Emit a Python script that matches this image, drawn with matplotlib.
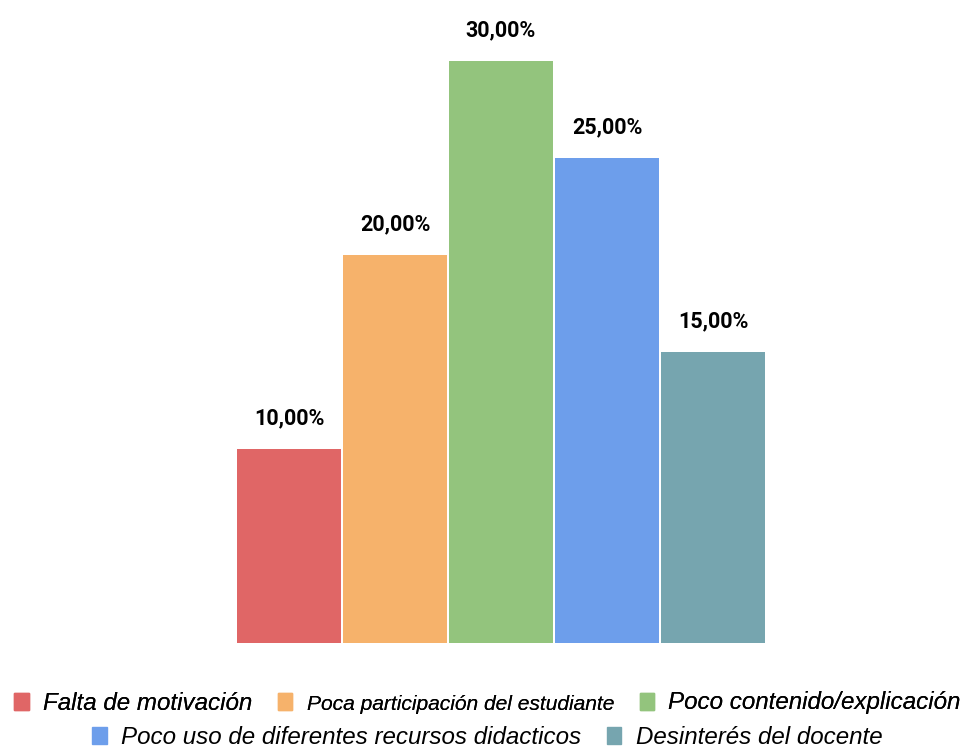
import matplotlib.pyplot as plt
from matplotlib.patches import Patch

categories = [
    "Falta de motivación",
    "Poca participación del estudiante",
    "Poco contenido/explicación",
    "Poco uso de diferentes recursos didacticos",
    "Desinterés del docente",
]
values = [0.10, 0.20, 0.30, 0.25, 0.15]
labels = ["10,00%", "20,00%", "30,00%", "25,00%", "15,00%"]
colors = ["#e06666", "#f6b26b", "#93c47d", "#6d9eeb", "#76a5af"]

fig = plt.figure(figsize=(9.75, 7.47), dpi=100)
ax = fig.add_axes([236 / 975, 104 / 747, 530 / 975, 640 / 747])

x = list(range(len(values)))
bars = ax.bar(x, values, width=0.98, color=colors)
ax.set_xlim(-0.5, 4.5)
ax.set_ylim(0, 0.33)
ax.axis("off")

for xi, v, lab in zip(x, values, labels):
    ax.annotate(lab, (xi, v), xytext=(0, 31), textcoords="offset pixels",
                ha="center", va="center", fontsize=15.5,
                fontweight="bold", family="Roboto", color="#000000")

handles = [Patch(color=c) for c in colors]

leg1 = fig.legend(handles[:3], categories[:3], loc="center",
                  bbox_to_anchor=(0.5, 1 - 703 / 747), ncol=3, frameon=False,
                  handlelength=0.6, handleheight=0.7, handletextpad=0.6,
                  columnspacing=1.05, prop={"family": "Liberation Sans",
                                            "style": "italic", "size": 17.4})
leg1.get_texts()[1].set_fontsize(15.1)
fig.add_artist(leg1)

leg2 = fig.legend(handles[3:], categories[3:], loc="center",
                  bbox_to_anchor=(0.5, 1 - 737 / 747), ncol=2, frameon=False,
                  handlelength=0.6, handleheight=0.7, handletextpad=0.6,
                  columnspacing=1.05, prop={"family": "Liberation Sans",
                                            "style": "italic", "size": 17.4})

fig.savefig("out.png", dpi=100)
